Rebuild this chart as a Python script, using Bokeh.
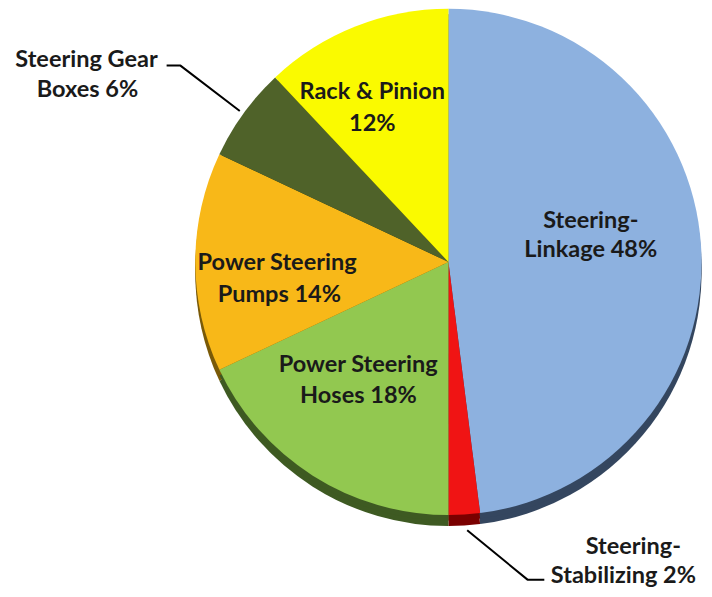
import numpy as np
from bokeh.plotting import figure
from bokeh.models import Range1d, ColumnDataSource
from bokeh.core.properties import value
from bokeh.embed import file_html
from bokeh.resources import INLINE

# ---- data ----
categories = ["Steering-Linkage", "Steering-Stabilizing", "Power Steering Hoses",
              "Power Steering Pumps", "Steering Gear Boxes", "Rack & Pinion"]
shares = [48, 2, 18, 14, 6, 12]
line1 = ["Steering-", "Steering-", "Power Steering", "Power Steering", "Steering Gear", "Rack & Pinion"]
line2 = ["Linkage 48%", "Stabilizing 2%", "Hoses 18%", "Pumps 14%", "Boxes 6%", "12%"]

# ---- style ----
colors = ["#8DB1DF", "#F01414", "#92C850", "#F8B818", "#4F6229", "#FAFA00"]
side_colors = ["#34465F", "#7A0000", "#3E5A22", "#7A5A08", "#2A3515", "#7A7A00"]

W, H = 704, 589
SX, SY = W / 712.0, H / 597.0
def X(px):
    return px * SX
def Y(py):
    return H - py * SY

cx, cy, r, depth = X(453), Y(265), 256 * SX, 11

vals = np.array(shares, dtype=float)
frac = vals / vals.sum()
c1 = np.cumsum(frac)
c0 = c1 - frac
start = np.pi / 2 - 2 * np.pi * c1
end = np.pi / 2 - 2 * np.pi * c0

src = ColumnDataSource(dict(cat=categories, start=start, end=end,
                            color=colors, side=side_colors))

p = figure(width=W, height=H, x_range=Range1d(0, W), y_range=Range1d(0, H),
           output_backend="svg", toolbar_location=None, min_border=0,
           x_axis_location=None, y_axis_location=None)
p.grid.visible = False
p.outline_line_color = None
p.background_fill_color = "white"
p.border_fill_color = "white"

# 3D side
p.wedge(x=cx, y=cy - depth, radius=r, start_angle="start", end_angle="end",
        fill_color="side", line_color=None, source=src)
p.wedge(x=cx, y=cy - depth / 2, radius=r, start_angle="start", end_angle="end",
        fill_color="side", line_color=None, source=src)
# top face
p.wedge(x=cx, y=cy, radius=r, start_angle="start", end_angle="end",
        fill_color="color", line_color=None, source=src)

# label positions (reference pixel coords of line centers)
pos1 = [(597, 221), (640, 552), (362, 367), (280, 264), (87, 58), (376, 91)]
pos2 = [(597, 251), (630, 581), (362, 399), (282, 296), (88, 89), (376, 123)]

font = value("Lato")
p.text(x=[X(a) for a, b in pos1], y=[Y(b) for a, b in pos1], text=line1,
       text_font=font, text_font_style="bold", text_font_size="23.5px",
       text_color="#1A1A1A", text_align="center", text_baseline="middle")
p.text(x=[X(a) for a, b in pos2], y=[Y(b) for a, b in pos2], text=line2,
       text_font=font, text_font_style="bold", text_font_size="23.5px",
       text_color="#1A1A1A", text_align="center", text_baseline="middle")

# leader lines
p.line(x=[X(168), X(182), X(242)], y=[Y(66), Y(66), Y(112)], line_color="black", line_width=2)
p.line(x=[X(472), X(533), X(550)], y=[Y(537), Y(587), Y(587)], line_color="black", line_width=2)

open("out.html", "w").write(file_html(p, INLINE))
